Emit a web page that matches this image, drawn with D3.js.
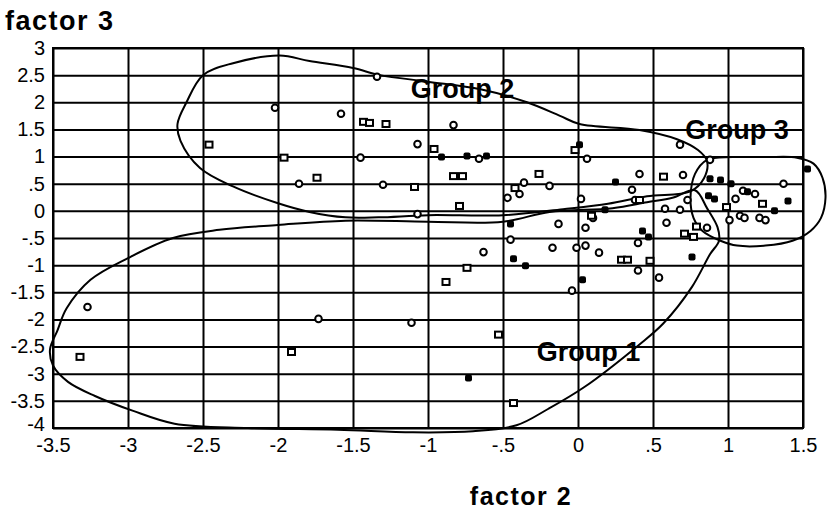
<!DOCTYPE html>
<html>
<head>
<meta charset="utf-8">
<script src="https://d3js.org/d3.v7.min.js"></script>
<style>
  body { margin: 0; background: #fff; }
  svg { display: block; font-family: "Liberation Sans", Arial, sans-serif; }
</style>
</head>
<body>
<div class="chart"></div>
<script>
// tick values for both axes
const xTicks = [-3.5, -3, -2.5, -2, -1.5, -1, -0.5, 0, 0.5, 1, 1.5];
const yTicks = [3, 2.5, 2, 1.5, 1, 0.5, 0, -0.5, -1, -1.5, -2, -2.5, -3, -3.5, -4];

const openCircles = [
  [-2.02, 1.90], [-1.34, 2.47], [-1.58, 1.79], [-1.07, 1.23], [-0.66, 0.96], [-0.83, 1.58],
  [-1.45, 0.98], [-1.86, 0.50], [-1.30, 0.48], [-0.47, 0.24], [-0.39, 0.31], [-0.36, 0.52],
  [-0.19, 0.46], [0.06, 0.96], [0.02, 0.22], [-1.07, -0.06], [-0.13, -0.24], [0.05, -0.31],
  [-0.45, -0.53], [-0.63, -0.76], [-1.73, -1.99], [-1.11, -2.06], [-3.27, -1.77], [0.68, 1.22],
  [0.41, 0.68], [0.70, 0.66], [0.36, 0.39], [0.38, 0.20], [0.88, 0.94], [1.37, 0.50],
  [1.10, 0.37], [1.18, 0.31], [1.05, 0.22], [0.58, 0.04], [0.68, 0.02], [0.10, -0.13],
  [0.59, -0.22], [0.86, -0.31], [1.08, -0.09], [1.11, -0.13], [1.21, -0.13], [1.25, -0.17],
  [1.01, -0.17], [0.40, -0.59], [-0.01, -0.68], [0.05, -0.64], [-0.17, -0.68], [0.14, -0.77],
  [0.40, -1.10], [0.54, -1.23], [-0.04, -1.47], [0.73, 0.20]
];
const openSquares = [
  [-2.46, 1.22], [-1.43, 1.64], [-1.39, 1.62], [-1.28, 1.60], [-0.96, 1.14], [-1.96, 0.98],
  [-1.74, 0.61], [-1.09, 0.44], [-0.83, 0.64], [-0.77, 0.64], [-0.26, 0.68], [-0.42, 0.42],
  [-0.02, 1.12], [-0.79, 0.09], [0.09, -0.09], [0.57, 0.63], [1.23, 0.13], [0.99, 0.07],
  [0.79, -0.29], [0.71, -0.42], [0.77, -0.48], [0.29, -0.90], [0.33, -0.90], [0.48, -0.92],
  [-0.74, -1.05], [-0.88, -1.31], [-0.53, -2.28], [-1.91, -2.60], [-3.32, -2.69], [-0.43, -3.54],
  [0.41, 0.20]
];
const filledMarks = [
  [-0.91, 0.99], [-0.74, 1.01], [-0.61, 1.01], [0.01, 1.22], [0.25, 0.53], [0.18, 0.02],
  [-0.45, -0.24], [-0.43, -0.88], [-0.35, -1.01], [-0.73, -3.08], [0.03, -1.27], [0.76, -0.85],
  [0.43, -0.37], [0.47, -0.48], [0.88, 0.59], [0.95, 0.57], [1.02, 0.50], [0.87, 0.28],
  [0.91, 0.22], [1.40, 0.18], [1.31, 0.00], [1.53, 0.77], [1.13, 0.35]
];

// hand-drawn group outlines
const group1Outline = [
  [-3.47, -2.2], [-3.41, -1.8], [-3.25, -1.27], [-3.0, -0.87], [-2.7, -0.5], [-2.39, -0.35],
  [-2.0, -0.26], [-1.55, -0.18], [-1.0, -0.2], [-0.5, -0.2], [-0.19, -0.02], [0.23, 0.05],
  [0.46, 0.16], [0.63, 0.24], [0.78, 0.38], [0.86, 0.05], [0.93, -0.3], [0.94, -0.55],
  [0.88, -0.8], [0.76, -1.4], [0.57, -2.07], [0.41, -2.46], [0.04, -3.25], [-0.2, -3.65],
  [-0.41, -3.95], [-0.7, -4.06], [-1.1, -4.08], [-1.6, -4.03], [-2.2, -4.0], [-2.69, -3.92],
  [-2.97, -3.68], [-3.22, -3.41], [-3.4, -3.15], [-3.5, -2.85], [-3.52, -2.55]
];
const group2Outline = [
  [-2.67, 1.6], [-2.61, 2.0], [-2.5, 2.5], [-2.3, 2.72], [-1.99, 2.86], [-1.79, 2.76],
  [-1.5, 2.63], [-1.32, 2.5], [-1.0, 2.38], [-0.65, 2.24], [-0.34, 2.0], [-0.12, 1.75],
  [0.01, 1.6], [0.41, 1.49], [0.66, 1.32], [0.8, 1.12], [0.86, 0.92], [0.84, 0.6],
  [0.75, 0.36], [0.46, 0.27], [0.2, 0.13], [-0.1, 0.03], [-0.5, -0.08], [-1.0, -0.08],
  [-1.33, -0.12], [-1.55, -0.12], [-1.79, -0.02], [-2.0, 0.14], [-2.3, 0.45], [-2.52, 0.79],
  [-2.65, 1.29]
];
const group3Outline = [
  [0.86, 0.94], [1.03, 0.99], [1.25, 0.99], [1.46, 0.98], [1.57, 0.87], [1.63, 0.61],
  [1.65, 0.24], [1.62, -0.13], [1.55, -0.37], [1.43, -0.55], [1.25, -0.64], [1.06, -0.64],
  [0.95, -0.55], [0.83, -0.37], [0.77, -0.13], [0.75, 0.24], [0.78, 0.68]
];

const groupLabels = ["Group 1", "Group 2", "Group 3"];
const groupLabelAt = [[0.07, -2.76], [-0.77, 2.08], [1.06, 1.33]];

const width = 829, height = 509;
const margin = { top: 48, right: 26, bottom: 81, left: 53 };
const plotW = width - margin.left - margin.right;
const plotH = height - margin.top - margin.bottom;

const svg = d3.select('.chart').append('svg')
  .attr('width', width)
  .attr('height', height);

const x = d3.scaleLinear().domain([-3.5, 1.5]).range([margin.left, margin.left + plotW]);
const y = d3.scaleLinear().domain([-4, 3]).range([margin.top + plotH, margin.top]);

const fmt = d => d === 0 ? '0' : String(d).replace('0.', '.');

// grid + labels through the axes
const xAxis = svg.append('g')
  .attr('transform', 'translate(0,' + (margin.top + plotH) + ')')
  .call(d3.axisBottom(x).tickValues(xTicks).tickFormat(fmt).tickSize(-plotH).tickPadding(10));
const yAxis = svg.append('g')
  .attr('transform', 'translate(' + margin.left + ',0)')
  .call(d3.axisLeft(y).tickValues(yTicks).tickFormat(fmt).tickSize(-plotW).tickPadding(8));

[xAxis, yAxis].forEach(g => {
  g.select('.domain').remove();
  g.selectAll('line').attr('stroke', '#000').attr('stroke-width', 2);
  g.selectAll('text')
    .attr('fill', '#000')
    .style('font-family', '"Liberation Sans", Arial, sans-serif')
    .style('font-size', '20px');
});
// the bottom-most y label sits a touch higher in the original
yAxis.selectAll('.tick').filter(d => d === -4).select('text').attr('dy', '0.1em');

svg.append('rect')
  .attr('x', margin.left).attr('y', margin.top)
  .attr('width', plotW).attr('height', plotH)
  .attr('fill', 'none').attr('stroke', '#000').attr('stroke-width', 2);

// group outlines
const outline = d3.line()
  .x(d => x(d[0]))
  .y(d => y(d[1]))
  .curve(d3.curveCatmullRomClosed.alpha(0.5));

[group1Outline, group2Outline, group3Outline].forEach(pts => {
  svg.append('path')
    .datum(pts)
    .attr('d', outline)
    .attr('fill', 'none')
    .attr('stroke', '#000')
    .attr('stroke-width', 2);
});

// markers
svg.selectAll('.circ')
  .data(openCircles)
  .enter().append('circle')
  .attr('class', 'circ')
  .attr('cx', d => x(d[0]))
  .attr('cy', d => y(d[1]))
  .attr('r', 3.3)
  .attr('fill', '#fff')
  .attr('stroke', '#000')
  .attr('stroke-width', 2);

svg.selectAll('.sq')
  .data(openSquares)
  .enter().append('rect')
  .attr('class', 'sq')
  .attr('x', d => x(d[0]) - 3.5)
  .attr('y', d => y(d[1]) - 3)
  .attr('width', 7)
  .attr('height', 6)
  .attr('fill', '#fff')
  .attr('stroke', '#000')
  .attr('stroke-width', 2);

svg.selectAll('.fill')
  .data(filledMarks)
  .enter().append('rect')
  .attr('class', 'fill')
  .attr('x', d => x(d[0]) - 3.5)
  .attr('y', d => y(d[1]) - 3.5)
  .attr('width', 7)
  .attr('height', 7)
  .attr('rx', 2)
  .attr('fill', '#000');

// group labels
svg.selectAll('.glabel')
  .data(groupLabels)
  .enter().append('text')
  .attr('class', 'glabel')
  .attr('x', (d, i) => x(groupLabelAt[i][0]))
  .attr('y', (d, i) => y(groupLabelAt[i][1]))
  .attr('text-anchor', 'middle')
  .style('font-size', '27px')
  .style('font-weight', 'bold')
  .text(d => d);

// axis titles
svg.append('text')
  .attr('x', 5).attr('y', 30)
  .style('font-size', '27px')
  .style('font-weight', 'bold')
  .style('letter-spacing', '1.5px')
  .text('factor 3');

svg.append('text')
  .attr('x', 521).attr('y', 505)
  .attr('text-anchor', 'middle')
  .style('font-size', '25px')
  .style('font-weight', 'bold')
  .style('letter-spacing', '1.5px')
  .text('factor 2');
</script>
</body>
</html>
